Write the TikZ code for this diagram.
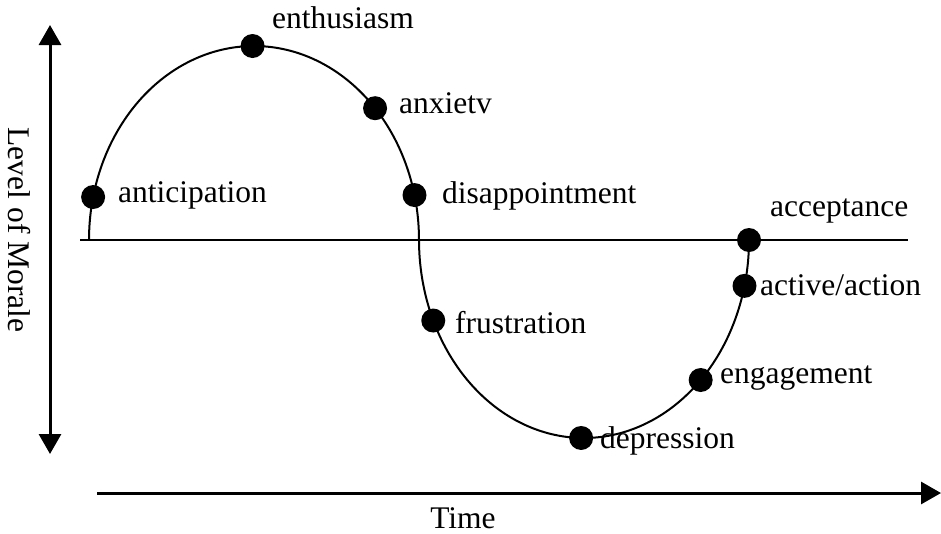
\documentclass[tikz,border=0pt]{standalone}
\usepackage{fontspec}
\setmainfont{Liberation Serif}
\usetikzlibrary{arrows.meta}
\begin{document}
\begin{tikzpicture}[x=1pt,y=-1pt,
  lbl/.style={font=\fontsize{31.5}{36}\selectfont, inner sep=0pt, anchor=base west},
  dot/.style={circle, fill=black, minimum size=24pt, inner sep=0pt},
  curve/.style={line width=2pt},
  axisline/.style={line width=2.4pt},
  arr/.style={line width=3pt},
  bighead/.tip={Triangle[length=20pt, width=22pt]}]
\useasboundingbox (0,0) rectangle (941,533);
% axes
\coordinate (vtop) at (50,25);
\coordinate (vbot) at (50,454);
\draw[arr, bighead-bighead] (vtop) -- (vbot);
\coordinate (tstart) at (97,493);
\coordinate (tend) at (941,493);
\draw[arr, -bighead] (tstart) -- (tend);
\coordinate (hl) at (80,240);
\coordinate (hr) at (908,240);
\draw[axisline] (hl) -- (hr);
% curve
\draw[curve] plot[domain=180:360, samples=150] ({254+165*cos(\x)}, {240+194*sin(\x)})
  -- plot[domain=180:0, samples=150] ({584+165*cos(\x)}, {240+198*sin(\x)});
% dots
\node[dot] (ant) at ({254+165*cos(192.8)}, {240+194*sin(192.8)}) {};
\node[dot] (ent) at ({254+165*cos(269.5)}, {240+194*sin(269.5)}) {};
\node[dot] (anx) at ({254+165*cos(317.2)}, {240+194*sin(317.2)}) {};
\node[dot] (dis) at ({254+165*cos(346.6)}, {240+194*sin(346.6)}) {};
\node[dot] (fru) at ({584+165*cos(156)}, {240+198*sin(156)}) {};
\node[dot] (dep) at ({584+165*cos(91)}, {240+198*sin(91)}) {};
\node[dot] (eng) at ({584+165*cos(45)}, {240+198*sin(45)}) {};
\node[dot] (act) at ({584+165*cos(13.4)}, {240+198*sin(13.4)}) {};
\node[dot] (acc) at ({584+165*cos(0)}, {240+198*sin(0)}) {};
% labels
\node[lbl] (tant) at (118,202) {anticipation};
\node[lbl] (tent) at (272,28) {enthusiasm};
\node[lbl] (tanx) at (399,113) {anxietv};
\node[lbl] (tdis) at (442,203) {disappointment};
\node[lbl] (tfru) at (455,333) {frustration};
\node[lbl] (tdep) at (600,448) {depression};
\node[lbl] (teng) at (720,383) {engagement};
\node[lbl] (tact) at (760,295) {active/action};
\node[lbl] (tacc) at (770,216) {acceptance};
\node[lbl, anchor=base] (ttime) at (463,528) {Time};
\node[font=\fontsize{31.5}{36}\selectfont, inner sep=0pt, rotate=-90] (tlev) at (19,230) {Level of Morale};
\end{tikzpicture}
\end{document}
